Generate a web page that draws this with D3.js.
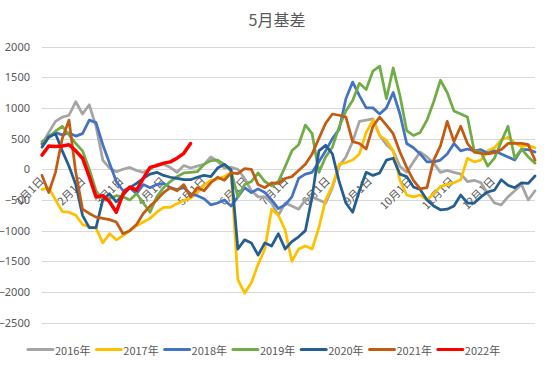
<!DOCTYPE html>
<html><head><meta charset="utf-8">
<script src="https://cdn.jsdelivr.net/npm/d3@7"></script>
<style>
html,body{margin:0;padding:0;background:#fff;}
svg text{font-family:"Noto Sans CJK SC","Noto Sans",sans-serif;fill:#595959;}
</style></head>
<body><svg id="c" width="553" height="367"></svg>
<script>
const title = "5月基差";
const days = d3.range(0, 366, 5);
const yTicks = [-2500,-2000,-1500,-1000,-500,0,500,1000,1500,2000];
const monthLabels = ["1月1日","2月1日","3月1日","4月1日","5月1日","6月1日","7月1日","8月1日","9月1日","10月1日","11月1日","12月1日"];
const monthDays = [0,31,59,90,120,151,181,212,243,273,304,334];
const seriesNames = ["2016年","2017年","2018年","2019年","2020年","2021年","2022年"];
const seriesColors = ["#A5A5A5","#FFC000","#4472C4","#70AD47","#255E91","#C55A11","#FF0000"];

const v2016 = [400,600,780,850,880,1100,900,1050,700,150,
20,-40,0,30,-20,-50,0,80,80,30,
-50,60,20,50,80,200,130,20,30,0,
-150,-350,-450,-450,-550,-750,-550,-600,-650,-500,
-450,-500,-550,-300,50,200,450,780,800,820,
550,400,300,50,-50,120,280,200,100,-50,
-20,-50,-80,-200,-180,-220,-400,-550,-580,-450,
-350,-250,-500,-350];
const v2017 = [-330,-300,-500,-690,-700,-750,-900,-940,-960,-1200,
-1050,-1150,-1080,-1000,-920,-860,-800,-700,-620,-620,
-560,-510,-470,-380,-260,-180,-160,-120,-50,-1800,
-2020,-1850,-1550,-1300,-650,-750,-990,-1500,-1300,-1250,
-1300,-950,-500,-270,80,110,150,250,600,800,
550,470,300,-180,-420,-450,-420,-500,-400,-280,
-250,-220,-170,180,120,150,300,350,480,520,
430,370,390,350];
const v2018 = [420,540,600,560,590,540,580,800,760,400,
100,-200,-350,-300,-400,-250,-300,-250,-230,-300,
-330,-300,-400,-430,-480,-580,-550,-500,-600,-450,
-300,-380,-320,-380,-500,-640,-580,-450,-150,-80,
-50,120,300,500,650,1150,1420,1200,1000,1000,
900,1000,1250,900,420,350,250,120,120,150,
250,420,300,330,300,320,260,300,250,200,
150,320,320,280];
const v2019 = [450,520,620,700,560,420,300,0,-350,-500,
-480,-430,-450,-500,-400,-550,-700,-450,-300,-200,
-120,-60,-50,-40,80,140,150,80,-30,-450,
-250,-200,-60,-200,-270,-200,40,300,400,720,
580,-50,200,360,690,950,1120,1400,1300,1600,
1680,1150,1650,1200,630,550,600,800,1100,1450,
1250,950,900,850,300,280,50,180,450,700,
180,330,200,100];
const v2020 = [360,520,580,300,50,-250,-750,-950,-950,-500,
-400,-530,-420,-300,-230,-150,-80,-50,-100,-130,
-150,-170,-170,-130,-100,-120,20,80,-10,-1300,
-1150,-1200,-1400,-1200,-1250,-1050,-1300,-1180,-1100,-1000,
-450,300,390,250,-200,-550,-700,-350,-50,-100,
-60,150,180,-80,-120,-290,-330,-500,-600,-660,
-650,-600,-420,-550,-550,-450,-370,-340,-170,-260,
-300,-220,-230,-110];
const v2021 = [-100,-380,-50,500,800,-50,-650,-720,-780,-800,
-820,-860,-1050,-1000,-900,-720,-600,-500,-380,-300,
-350,-250,-450,-300,-350,-220,-130,-180,-60,-70,
10,0,-250,-300,-220,-230,-150,-120,-20,80,
250,500,750,900,880,850,450,420,330,700,
850,720,580,280,30,-180,-320,-300,150,380,
780,450,700,420,280,260,250,270,320,420,
420,420,400,150];
const v2022 = [230,380,370,380,400,300,180,-120,-450,-430,
-530,-700,-400,-290,-340,-150,30,60,100,120,
180,260,420];

const seriesValues = [v2016,v2017,v2018,v2019,v2020,v2021,v2022];

const svg = d3.select("#c");
const x = d3.scaleLinear().domain([0,365]).range([42,535]);
const y = d3.scaleLinear().domain([-2500,2000]).range([322.7,46.5]);

svg.append("text").attr("x",277).attr("y",26).attr("text-anchor","middle")
  .attr("font-size",16).text(title);

// gridlines
svg.append("g").selectAll("line").data(yTicks).join("line")
  .attr("x1",42).attr("x2",535)
  .attr("y1",d=>Math.round(y(d))+0.5).attr("y2",d=>Math.round(y(d))+0.5)
  .attr("stroke","#D9D9D9").attr("stroke-width",1);

// y axis labels
const yAxis = d3.axisLeft(y).tickValues(yTicks).tickFormat(d3.format("d")).tickSize(0).tickPadding(0);
const gy = svg.append("g").attr("transform","translate(30,0)").call(yAxis);
gy.select(".domain").remove();
gy.selectAll("text").attr("font-size",11).attr("fill","#595959")
  .style("font-family",'"Noto Sans","Noto Sans CJK SC",sans-serif');

// x labels rotated
svg.append("g").selectAll("text").data(monthDays).join("text")
  .attr("transform",(d)=>`translate(${x(d)-1},${y(0)+9}) rotate(-45)`)
  .attr("text-anchor","end").attr("dominant-baseline","central")
  .attr("font-size",11).text((d,i)=>monthLabels[i]);

// lines
const line = d3.line().x(d=>x(d[0])).y(d=>y(d[1]));
seriesValues.forEach((vals,i)=>{
  const pts = vals.map((v,j)=>[days[j],v]);
  svg.append("path").datum(pts).attr("d",line)
    .attr("fill","none").attr("stroke",seriesColors[i])
    .attr("stroke-width", i===6?3.5:2.75)
    .attr("stroke-linejoin","round").attr("stroke-linecap","round");
});

// legend
const lg = svg.append("g");
seriesNames.forEach((n,i)=>{
  const lx = 28 + i*68.3;
  lg.append("line").attr("x1",lx).attr("x2",lx+25).attr("y1",349.5).attr("y2",349.5)
    .attr("stroke",seriesColors[i]).attr("stroke-width",3).attr("stroke-linecap","round");
  lg.append("text").attr("x",lx+27).attr("y",350).attr("dominant-baseline","central")
    .attr("font-size",11).text(n);
});
</script></body></html>
